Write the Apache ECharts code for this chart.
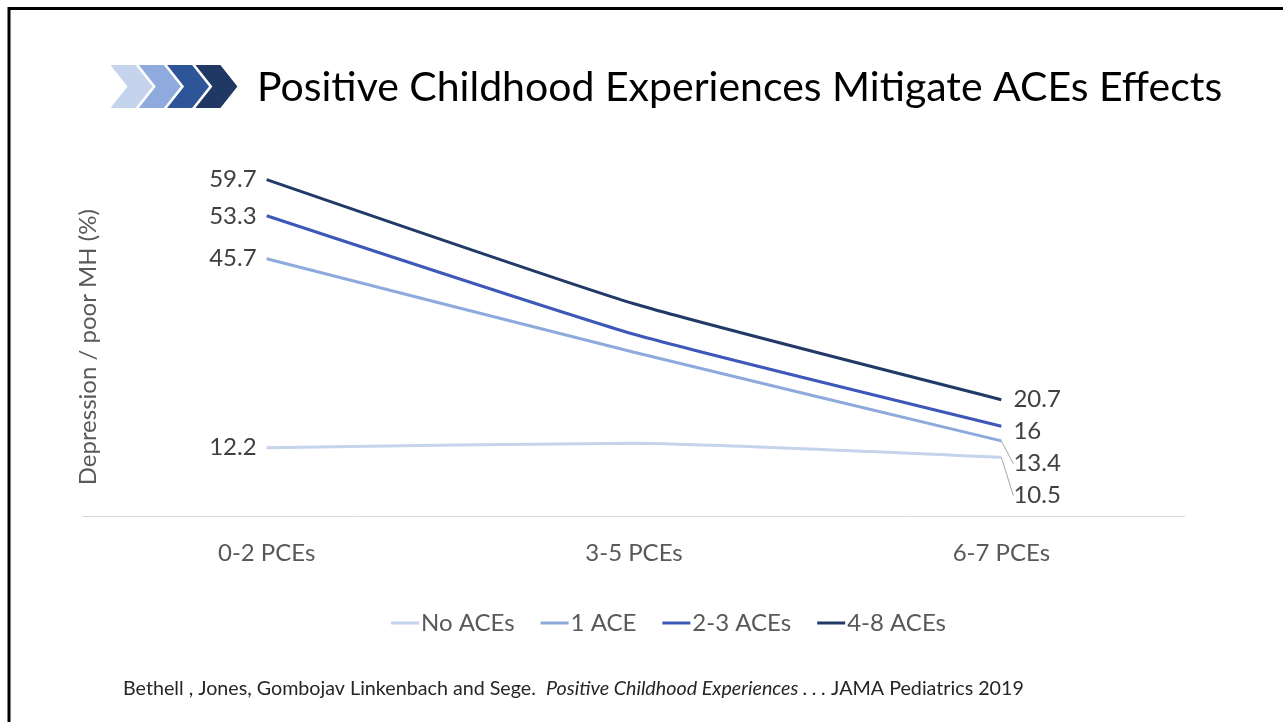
<!DOCTYPE html>
<html>
<head>
<meta charset="utf-8">
<title>Positive Childhood Experiences Mitigate ACEs Effects</title>
<script src="https://cdn.jsdelivr.net/npm/echarts@6/dist/echarts.min.js"></script>
<style>
  html, body { margin: 0; padding: 0; background: #ffffff; }
  #chart { width: 1283px; height: 722px; }
</style>
</head>
<body>
<div id="chart"></div>
<script>
// Share of adults with depression / poor mental health (%) by PCE level, per ACE group
const categories = ['0-2 PCEs', '3-5 PCEs', '6-7 PCEs'];
const seriesNames = ['No ACEs', '1 ACE', '2-3 ACEs', '4-8 ACEs'];
const noAces = [12.2, 13.0, 10.5];
const oneAce = [45.7, 29.1, 13.4];
const twoThreeAces = [53.3, 32.3, 16];
const fourEightAces = [59.7, 37.7, 20.7];
const seriesColors = ['#c5d3ec', '#8eaadc', '#3d58b8', '#213a67'];

const FONT = 'Lato, "Open Sans", sans-serif';
const LABEL_GAP = 32;   // minimum vertical spacing between end-of-line labels

const allValues = [noAces, oneAce, twoThreeAces, fourEightAces];

function buildSeries(idx, shifts) {
  const values = allValues[idx];
  const color = seriesColors[idx];
  const last = values.length - 1;
  return {
    name: seriesNames[idx],
    type: 'line',
    smooth: 0.15,
    symbol: 'circle',
    symbolSize: 0.1,
    showSymbol: true,
    lineStyle: { color: color, width: 3 },
    itemStyle: { color: color },
    emphasis: { disabled: true },
    labelLayout: function (params) {
      if (params.dataIndex === last && shifts) {
        return { dy: shifts[idx] };
      }
      return {};
    },
    data: values.map((v, i) => ({
      value: v,
      label: {
        show: i === 0 || i === last,
        position: i === 0 ? 'left' : 'right',
        distance: i === 0 ? 10 : 12,
        color: '#404040',
        fontSize: 24,
        fontFamily: FONT,
        formatter: '{c}'
      },
      labelLine: {
        show: !!(shifts && i === last && shifts[idx] > 8),
        length2: 0,
        lineStyle: { color: '#a6a6a6', width: 1 }
      }
    }))
  };
}

// Chevron arrows beside the title
const chevronColors = ['#c6d3ed', '#8faadc', '#2e5597', '#1f3864'];
const chevrons = chevronColors.map((c, i) => {
  const x0 = 110.5 + i * 28.3;
  return {
    type: 'polygon',
    shape: {
      points: [
        [x0, 65], [x0 + 25, 65], [x0 + 42, 86.5],
        [x0 + 25, 108], [x0, 108], [x0 + 17, 86.5]
      ]
    },
    style: { fill: c }
  };
});

const chart = echarts.init(document.getElementById('chart'), null, { renderer: 'canvas' });

function seriesList(shifts) {
  return allValues.map((_, i) => buildSeries(i, shifts));
}

chart.setOption({
  backgroundColor: '#ffffff',
  animation: false,
  grid: { left: 83, right: 98, top: 178, bottom: 205.5, containLabel: false },
  xAxis: {
    type: 'category',
    data: categories,
    boundaryGap: true,
    axisLine: { show: true, lineStyle: { color: '#d9d9d9', width: 1 } },
    axisTick: { show: false },
    axisLabel: { color: '#595959', fontSize: 24, fontFamily: FONT, margin: 25 }
  },
  yAxis: {
    type: 'value',
    min: 0,
    max: 60,
    name: 'Depression / poor MH (%)',
    nameLocation: 'middle',
    nameRotate: 90,
    nameGap: -17,
    nameTextStyle: { color: '#595959', fontSize: 24, fontFamily: FONT },
    axisLine: { show: false },
    axisTick: { show: false },
    axisLabel: { show: false },
    splitLine: { show: false }
  },
  legend: {
    data: seriesNames,
    left: 386,
    top: 606,
    itemWidth: 28,
    itemHeight: 14,
    itemGap: 26,
    icon: 'path://M0,6 L28,6 L28,9 L0,9 Z',
    textStyle: { color: '#595959', fontSize: 24, fontFamily: FONT, padding: [0, 0, 0, -3] }
  },
  series: seriesList(null),
  graphic: [
    {
      type: 'rect',
      shape: { x: 9, y: 8.5, width: 1400, height: 900 },
      style: { fill: 'none', stroke: '#000000', lineWidth: 3 },
      silent: true
    },
    ...chevrons,
    {
      type: 'text',
      x: 257,
      y: 88,
      style: {
        text: 'Positive Childhood Experiences Mitigate ACEs Effects',
        fill: '#000000',
        fontSize: 41,
        fontFamily: FONT,
        verticalAlign: 'middle',
        align: 'left'
      }
    },
    {
      type: 'text',
      x: 123,
      y: 689,
      style: {
        text: '{n|Bethell , Jones, Gombojav Linkenbach and Sege.  }{i|Positive Childhood Experiences . . .}{n| JAMA Pediatrics 2019}',
        verticalAlign: 'middle',
        align: 'left',
        rich: {
          n: { fontSize: 19.7, fontFamily: FONT, fill: '#262626' },
          i: { fontSize: 19.7, fontFamily: FONT, fontStyle: 'italic', fill: '#262626' }
        }
      }
    }
  ]
});

// Spread the end-of-line labels apart so they do not overlap:
// take each end point's pixel position from the axis, then push lower labels down.
const lastIdx = categories.length - 1;
const ends = allValues.map((vals, i) => ({
  idx: i,
  y: chart.convertToPixel({ seriesIndex: i }, [lastIdx, vals[lastIdx]])[1]
}));
ends.sort((a, b) => a.y - b.y);
const shifts = new Array(allValues.length).fill(0);
let prevY = -Infinity;
ends.forEach(e => {
  const target = Math.max(e.y, prevY + LABEL_GAP);
  shifts[e.idx] = target - e.y;
  prevY = target;
});
chart.setOption({ series: seriesList(shifts) });
</script>
</body>
</html>
